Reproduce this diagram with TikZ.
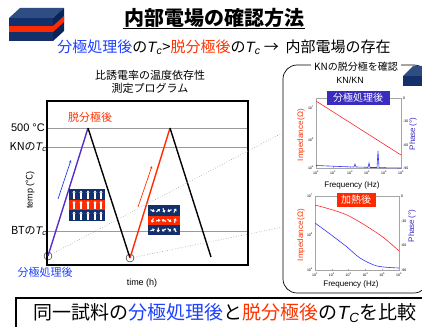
\documentclass[tikz,border=0pt]{standalone}
\usepackage{fontspec}
\setmainfont{Noto Sans CJK JP}
\newfontfamily\arial{Liberation Sans}
\usepackage{tikz}
\usetikzlibrary{arrows.meta,positioning}
\usepackage{xcolor}
\definecolor{kbnavy}{HTML}{13306B}
\definecolor{kbtop}{HTML}{2E4D82}
\definecolor{kbside}{HTML}{0B2458}
\definecolor{kbred}{HTML}{FF2A00}
\definecolor{jblue}{HTML}{1E40FF}
\definecolor{jred}{HTML}{FF3300}
\definecolor{kbviolet}{HTML}{5530C8}
\definecolor{tagviolet}{HTML}{3B2CC0}
\definecolor{kbgrey}{HTML}{9A9A9A}
\newcommand\Tc{{\arial\itshape T\textsubscript{c}}}
\newcommand\TC{{\arial\itshape T\textsubscript{C}}}
\tikzset{
  ttl/.style={font=\fontsize{20}{24}\selectfont\bfseries, inner sep=1pt},
  lead/.style={font=\fontsize{15}{18}\selectfont},
  lbl/.style={font=\fontsize{11}{13}\selectfont},
  small/.style={font=\fontsize{9}{11}\selectfont},
  ticklbl/.style={font=\fontsize{3.5}{4}\selectfont, inner sep=0pt},
  axlbl/.style={font=\fontsize{8}{9}\selectfont, rotate=90},
  tag/.style={font=\fontsize{10}{12}\selectfont, text=white, inner sep=2pt,
              minimum height=13pt},
  level/.style={draw=kbgrey, line width=0.6pt},
  ramp/.style={line width=1.4pt},
  hint/.style={-{Stealth[length=3pt,width=2.5pt]}, line width=0.7pt},
  dipole/.style={white, line width=1.1pt, -{Triangle[length=2.2pt,width=3.2pt]}},
  zoomline/.style={draw=kbgrey, dotted, line width=0.6pt},
  pframe/.style={draw=gray!70, line width=0.4pt},
}

\begin{document}
\begin{tikzpicture}[x=1pt, y=-1pt, every node/.style={inner sep=1pt}]
\useasboundingbox (0,0) rectangle (422,326);
\clip (0,0) rectangle (422,326);

% layered sample, top left
\fill[kbtop] (9,18) -- (20,8) -- (64,8) -- (53,18) -- cycle;
\fill[kbside] (53,18) -- (64,8) -- (64,31) -- (53,41) -- cycle;
\fill[kbnavy] (9,18) rectangle (53,41);
\fill[kbred] (9,26) rectangle (53,32);
\fill[kbred] (53,26) -- (64,16) -- (64,22) -- (53,32) -- cycle;

\node[ttl] (ttl) at (214,18) {内部電場の確認方法};
\draw[line width=1pt] (ttl.south west) -- (ttl.south east);
\node[lead] (lead) at (224,47) {{\color{jblue}分極処理後}の\Tc>{\color{jred}脱分極後}の\Tc\ → \ 内部電場の存在};

% temperature program
\node[lbl, align=center] (prog) at (150,82) {比誘電率の温度依存性\\測定プログラム};
\draw[level] (47,128) -- (248,128);
\draw[level] (47,147) -- (248,147);
\draw[level] (47,231) -- (248,231);
\draw[line width=1.3pt] (47,101) rectangle (248,265);

\node[lbl, anchor=east] (t500) at (46,128) {\arial 500 °C};
\node[lbl, anchor=east] (tkn) at (48,147) {KNの\Tc};
\node[lbl, anchor=east] (tbt) at (48,231) {BTの\Tc};
\node[small, rotate=90] (temp) at (30,190) {{\arial temp (}℃{\arial )}};
\node[small] (time) at (142,283) {\arial time (h)};
\node[lbl, text=jblue] (poled) at (45,272) {分極処理後};
\node[lbl, text=jred] (depoled) at (90,117) {脱分極後};

\node[circle, draw, minimum size=8pt, inner sep=0pt, line width=0.4pt] (c1) at (48,256) {};
\node[circle, draw, minimum size=8pt, inner sep=0pt, line width=0.4pt] (c2) at (130,258) {};
\coordinate (pk1) at (88,128);
\coordinate (pk2) at (170,128);
\coordinate (end) at (211,257);

\draw[ramp, kbviolet] (c1.center) -- (pk1);
\draw[ramp] (pk1) -- (c2.center);
\draw[ramp, kbred] (c2.center) -- (pk2);
\draw[ramp] (pk2) -- (end);

\draw[hint, jblue] (58,199) -- (71,160);
\draw[hint, jred] (138,207) -- (152,166);

% aligned domains
\fill[kbnavy] (69,189) rectangle (105,221);
\fill[kbred] (69,200) rectangle (105,210);
\foreach \y in {194.5,205,215.5}
  \foreach \x in {74,81,88,95,101}
    \draw[dipole] (\x,\y+4) -- (\x,\y-4);

% random domains
\fill[kbnavy] (148,205) rectangle (180,235);
\fill[kbred] (148,216) rectangle (180,225);
\foreach \y/\angs in {210.5/{20,-35,70,160,-60},220.5/{110,-10,200,35,-80},230/{-20,95,150,40,-120}}
  \foreach \a [count=\i] in \angs
    \draw[dipole] ({147+\i*5.6},\y) ++(\a+180:2.3) -- ++(\a:4.6);

% impedance panel
\draw[line width=0.7pt, rounded corners=14pt] (283,65) rectangle (428,293);
\node[font=\fontsize{10}{12}\selectfont, fill=white, inner sep=3pt] (kncap) at (356,67) {KNの脱分極を確認};
\node[font=\fontsize{9}{11}\selectfont] (knkn) at (350,80) {\arial KN/KN};

% layered sample, top right
\fill[kbtop] (403,76) -- (413,66) -- (422,66) -- (422,76) -- cycle;
\fill[kbnavy] (403,76) rectangle (422,86);

\coordinate (p1) at (284,132);
\coordinate (p2) at (283,227);
\draw[zoomline] (c1) -- (p1);
\draw[zoomline] (c2) -- (p2);

% plot after poling
\draw[pframe] (316,98) rectangle (401,168);
\foreach \i in {1,...,6} {
  \draw[gray!70, line width=0.3pt] ({316+(\i-1)*17},168) -- ++(0,-1.5);
  \node[ticklbl] at ({316+(\i-1)*17},173) {\arial 10\textsuperscript{\i}};
}
\foreach \y/\v in {108/7,140/6,168/5}
  \node[ticklbl, anchor=east] at (314,\y) {\arial 10\textsuperscript{\v}};
\foreach \y/\v in {98/0,121/-30,145/-60,168/-90}
  \node[ticklbl, anchor=west] at (403,\y) {\arial \v};
\draw[red!85, line width=0.6pt] (316,101) -- (401,155);
\draw[blue!80, line width=0.6pt] (316,165.5) -- (340,166.5) -- (354,167) -- (355,164) -- (356,167)
  -- (368,167.3) -- (369,163) -- (370,167.5) -- (377,167.5) -- (378,151) -- (379,167.7) -- (401,168);
\node[axlbl, text=jred] (imp1) at (301,135) {\arial Impedance\,(Ω)};
\node[axlbl, text=tagviolet] (ph1) at (413,134) {\arial Phase\,(°)};
\node[font=\fontsize{8}{9}\selectfont] (fq1) at (352,185) {\arial Frequency (Hz)};
\node[tag, fill=tagviolet, minimum width=63pt] (tg1) at (358,98) {分極処理後};

% plot after heating
\draw[pframe] (315,196) rectangle (399,270);
\foreach \i in {1,...,6} {
  \draw[gray!70, line width=0.3pt] ({315+(\i-1)*16.8},270) -- ++(0,-1.5);
  \node[ticklbl] at ({315+(\i-1)*16.8},275) {\arial 10\textsuperscript{\i}};
}
\foreach \y/\v in {196/7,235/6,270/5}
  \node[ticklbl, anchor=east] at (313,\y) {\arial 10\textsuperscript{\v}};
\foreach \y/\v in {196/0,221/-30,245/-60,270/-90}
  \node[ticklbl, anchor=west] at (401,\y) {\arial \v};
\draw[red!85, line width=0.6pt] plot[smooth] coordinates {(315,205) (347,215) (380,235) (399,251)};
\draw[blue!80, line width=0.6pt] plot[smooth] coordinates {(315,223) (330,234) (347,247) (360,258) (377,266) (399,268)};
\node[axlbl, text=jred] (imp2) at (301,235) {\arial Impedance\,(Ω)};
\node[axlbl, text=tagviolet] (ph2) at (412,226) {\arial Phase\,(°)};
\node[font=\fontsize{8}{9}\selectfont] (fq2) at (351,284) {\arial Frequency (Hz)};
\node[tag, fill=kbred, minimum width=39pt] (tg2) at (356,200) {加熱後};

% summary banner
\draw[line width=1.6pt] (16,298) rectangle (430,335);
\node[font=\fontsize{19}{22}\selectfont] (sum) at (225,313)
  {同一試料の{\color{jblue}分極処理後}と{\color{jred}脱分極後}の\TC を比較};
\end{tikzpicture}
\end{document}
